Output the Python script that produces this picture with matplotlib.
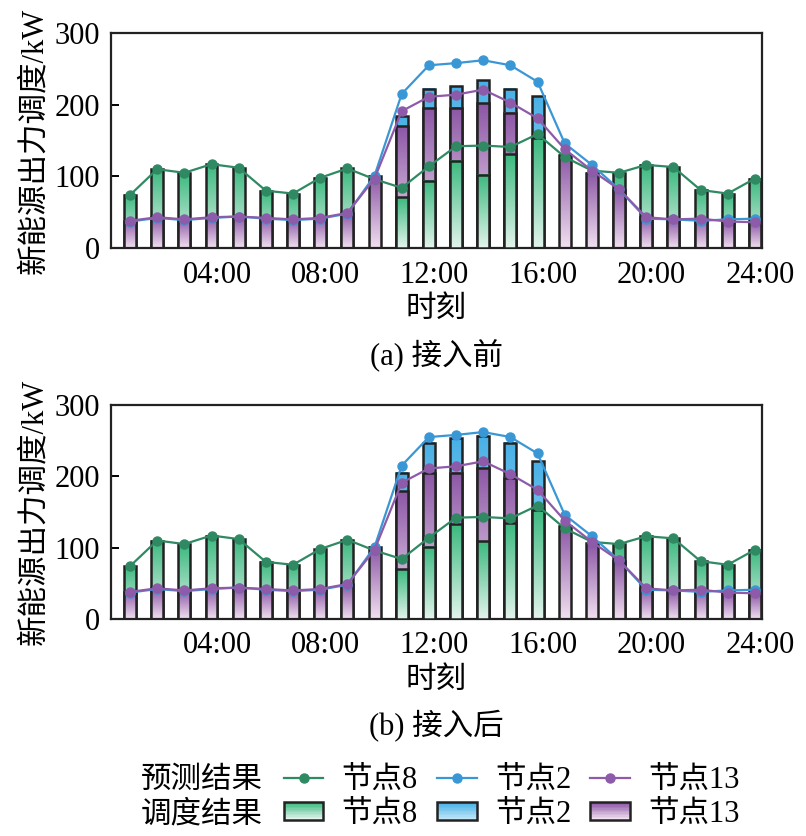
import matplotlib
matplotlib.use("Agg")
import matplotlib.pyplot as plt
import numpy as np
from matplotlib.colors import LinearSegmentedColormap
from matplotlib.lines import Line2D
from matplotlib.patches import Rectangle
from matplotlib.legend_handler import HandlerBase

plt.rcParams['font.family'] = ['Liberation Serif', 'Noto Sans CJK SC']

hours = np.arange(1, 25)
tick_hours = [4, 8, 12, 16, 20, 24]
tick_labels = ['04:00', '08:00', '12:00', '16:00', '20:00', '24:00']

# forecast (预测结果)
fc_node8 = [74, 110, 105, 117, 112, 80, 76, 98, 111, 96, 84, 114,
            142, 143, 141, 159, 127, 108, 105, 116, 113, 81, 76, 97]
fc_node2 = [37, 42, 39, 42, 44, 41, 39, 41, 48, 101, 215, 255,
            258, 262, 255, 232, 146, 116, 82, 41, 40, 38, 40, 41]
fc_node13 = [38, 43, 40, 43, 44, 42, 40, 42, 49, 97, 191, 211,
             214, 221, 203, 181, 138, 108, 82, 43, 40, 41, 37, 36]

# dispatch (调度结果), (a) before
disp_a_node8 = [74, 110, 105, 117, 112, 80, 76, 98, 111, 0, 71, 94,
                122, 102, 131, 153, 0, 0, 105, 116, 113, 81, 76, 97]
disp_a_node2 = [0, 0, 0, 0, 0, 0, 0, 0, 0, 0, 184, 222,
                226, 234, 222, 212, 0, 0, 0, 0, 0, 0, 0, 0]
disp_a_node13 = [38, 43, 40, 43, 44, 42, 40, 42, 49, 101, 170, 195,
                 196, 202, 189, 0, 130, 105, 81, 43, 40, 41, 37, 36]

# dispatch, (b) after
disp_b_node8 = [74, 110, 105, 117, 112, 80, 76, 98, 111, 0, 70, 101,
                133, 109, 134, 153, 0, 0, 105, 116, 113, 81, 76, 97]
disp_b_node2 = [0, 0, 0, 0, 0, 0, 0, 0, 0, 0, 205, 247,
                253, 257, 247, 221, 0, 0, 0, 0, 0, 0, 0, 0]
disp_b_node13 = [38, 43, 40, 43, 44, 42, 40, 42, 49, 101, 179, 204,
                 205, 211, 198, 0, 131, 106, 81, 43, 40, 41, 37, 36]

line_colors = {'8': '#2f8a63', '2': '#3a97d6', '13': '#8d5ba9'}
cmaps = {
    '8': LinearSegmentedColormap.from_list('g', ['#e2f4ec', '#3cb97f']),
    '2': LinearSegmentedColormap.from_list('b', ['#bfe6f8', '#48b0e6']),
    '13': LinearSegmentedColormap.from_list('p', ['#f1e0f0', '#8c57a6']),
}
grad = np.linspace(0, 1, 100).reshape(-1, 1)
bar_w = 0.44
FS = 22


def draw_panel(ax, disp, caption):
    # overlapping bars from zero; tallest drawn first
    for i, h in enumerate(hours):
        vals = [(disp[k][i], k) for k in ('2', '8', '13')]
        vals.sort(key=lambda v: -v[0])
        for rank, (v, k) in enumerate(vals):
            if v <= 0:
                continue
            z = 2 + rank * 0.3
            bar = ax.bar(h, v, bar_w, facecolor='none', edgecolor='#222222',
                         linewidth=1.8, zorder=z + 0.1)[0]
            x0 = bar.get_x()
            ax.imshow(grad, extent=[x0, x0 + bar.get_width(), 0, bar.get_height()],
                      origin='lower', aspect='auto', cmap=cmaps[k], zorder=z)
    for k, fc in (('8', fc_node8), ('2', fc_node2), ('13', fc_node13)):
        ax.plot(hours, fc, color=line_colors[k], marker='o', markersize=6.5,
                linewidth=1.6, zorder=6)
    ax.set_xlim(0.3, 24.26)
    ax.set_ylim(0, 300)
    ax.set_yticks([0, 100, 200, 300])
    ax.set_xticks([t + 0.2 for t in tick_hours])
    ax.set_xticklabels(tick_labels)
    ax.tick_params(axis='x', length=0, labelsize=FS, pad=9)
    ax.tick_params(axis='y', direction='in', length=6, width=1.4, labelsize=FS, pad=8)
    for s in ax.spines.values():
        s.set_linewidth(1.6)
        s.set_color('#222222')
    ax.set_ylabel('新能源出力调度/kW', fontsize=FS, labelpad=4)
    ax.set_xlabel('时刻', fontsize=FS, labelpad=4)
    ax.text(0.5, -0.5, caption, transform=ax.transAxes, ha='center', va='center',
            fontsize=FS)


class GradHandler(HandlerBase):
    def __init__(self, cmap):
        super().__init__()
        self.cmap = cmap

    def create_artists(self, legend, orig_handle, xdescent, ydescent,
                       width, height, fontsize, trans):
        arts = []
        n = 12
        y0 = -ydescent
        for j in range(n):
            arts.append(Rectangle((-xdescent, y0 + j * height / n), width, height / n,
                                  facecolor=self.cmap(j / (n - 1)), edgecolor='none',
                                  transform=trans))
        arts.append(Rectangle((-xdescent, y0), width, height, facecolor='none',
                              edgecolor='#222222', linewidth=1.8, transform=trans))
        return arts


fig = plt.figure(figsize=(8.06, 8.36), dpi=100)
ax1 = fig.add_axes([0.1377, 0.7033, 0.8077, 0.2572])
ax2 = fig.add_axes([0.1377, 0.2596, 0.8077, 0.256])

draw_panel(ax1, {'8': disp_a_node8, '2': disp_a_node2, '13': disp_a_node13}, '(a) 接入前')
draw_panel(ax2, {'8': disp_b_node8, '2': disp_b_node2, '13': disp_b_node13}, '(b) 接入后')

handles, labels, hmap = [], [], {}
for k in ('8', '2', '13'):
    ln = Line2D([], [], color=line_colors[k], marker='o', markersize=6.5, linewidth=1.6)
    rect = Rectangle((0, 0), 1, 1)
    hmap[rect] = GradHandler(cmaps[k])
    handles += [ln, rect]
    labels += ['节点' + k, '节点' + k]

fig.text(0.175, 0.066, '预测结果', fontsize=FS, ha='left', va='center')
fig.text(0.175, 0.025, '调度结果', fontsize=FS, ha='left', va='center')
fig.legend(handles, labels, handler_map=hmap, ncol=3, loc='center left',
           bbox_to_anchor=(0.333, 0.046), frameon=False, fontsize=FS,
           handlelength=1.3, handleheight=0.5, handletextpad=0.6,
           columnspacing=0.62, labelspacing=0.15, borderpad=0)

fig.savefig('out.png', dpi=100)
